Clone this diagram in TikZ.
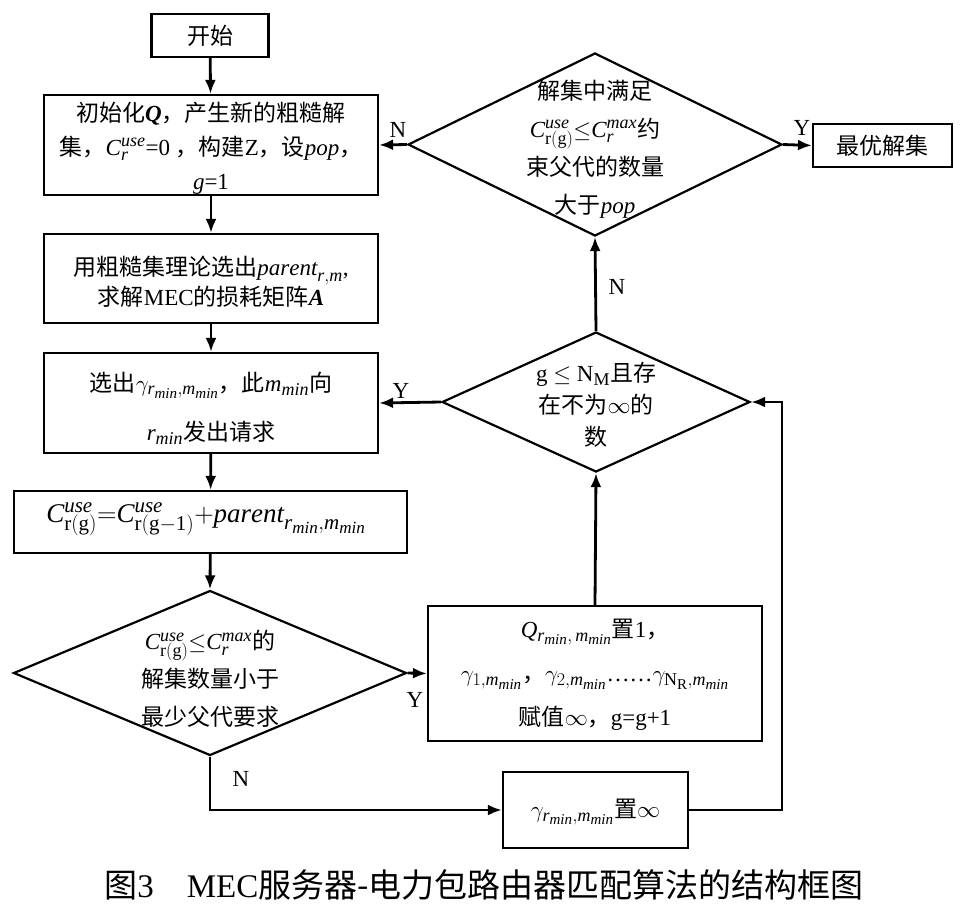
\RequirePackage{fix-cm}
\documentclass[tikz,border=0pt]{standalone}
\usepackage{fontspec}
\setmainfont{Liberation Serif}
\newfontfamily\cjk{Noto Sans CJK SC}
\newcommand\zh[1]{{\cjk #1}}
\DeclareMathSizes{23}{23}{18}{15}
\DeclareMathSizes{27}{27}{21}{17}
\newcommand\Cu[1]{\mathit{C}^{\mathit{use}}_{\mathrm{r(#1)}}}
\newcommand\Cm{\mathit{C}^{\mathit{max}}_{\mathit{r}}}
\newcommand\mmin{\mathit{m}_{\mathit{min}}}
\newcommand\rmin{\mathit{r}_{\mathit{min}}}
\usetikzlibrary{shapes.geometric,arrows.meta}
\tikzset{
  box/.style={draw, line width=2.2pt, rectangle, inner sep=0pt},
  dia/.style={draw, line width=2.2pt, diamond, inner sep=0pt},
  txt/.style={align=center, inner sep=0pt, font=\fontsize{23}{34}\selectfont},
  arr/.style={line width=2.8pt, -{Latex[length=14pt,width=11pt]}},
  lbl/.style={inner sep=0pt, font=\fontsize{23}{26}\selectfont},
}
\begin{document}
\begin{tikzpicture}[x=1pt,y=-1pt]
\useasboundingbox (0,0) rectangle (968,916);
% boxes
\node[box, minimum width=117, minimum height=43] (start) at (210,35.5) {};
\node[txt] (tstart) at (start) {\zh{开始}};
\node[box, minimum width=334, minimum height=100] (b1) at (211,145) {};
\node[txt] (t1) at (211,148) {\zh{初始化}\textbf{\textit{Q}}\zh{，产生新的粗糙解}\\ \zh{集，}$\mathit{C}^{\mathit{use}}_{\mathit{r}}$=0 \zh{，构建}Z\zh{，设}\textit{pop}\zh{，}\\ \textit{g}=1};
\node[box, minimum width=334, minimum height=89] (b2) at (211,278.5) {};
\node[txt, font=\fontsize{23}{30}\selectfont] (t2) at (211,282) {\zh{用粗糙集理论选出}$\mathit{parent}_{\mathit{r,m}}$,\\ \zh{求解}MEC\zh{的损耗矩阵}\textbf{\textit{A}}};
\node[box, minimum width=334, minimum height=100] (b3) at (211,403) {};
\node[txt, font=\fontsize{23}{49}\selectfont] (t3) at (211,408) {\zh{选出}$\gamma_{\rmin,\mmin}$\zh{，此}$\mmin$\zh{向}\\ $\rmin$\zh{发出请求}};
\node[box, minimum width=393, minimum height=62] (b4) at (210.5,522) {};
\node[txt, font=\fontsize{27}{30}\selectfont] (t4) at (206,519) {$\Cu{g}{=}\Cu{g-1}{+}\mathit{parent}_{\rmin,\mmin}$};
\node[dia, minimum width=393, minimum height=165] (d3) at (210,673) {};
\node[txt, font=\fontsize{23}{38}\selectfont] (td3) at (210,679) {$\Cu{g}{\leq}\Cm$\zh{的}\\ \zh{解集数量小于}\\ \zh{最少父代要求}};
\node[box, minimum width=334, minimum height=135] (bq) at (595,673.5) {};
\node[txt, font=\fontsize{23}{44}\selectfont] (tq) at (595,675) {$\mathit{Q}_{\rmin,\,\mmin}$\zh{置}1\zh{，}\\ $\gamma_{1,\mmin}$\zh{，}$\gamma_{2,\mmin}$\ldots\ldots$\gamma_{\mathrm{N_R},\mmin}$\\ \zh{赋值}$\infty$\zh{，}g=g+1};
\node[box, minimum width=185, minimum height=76] (bg) at (595.5,810) {};
\node[txt] (tg) at (595.5,812) {$\gamma_{\rmin,\mmin}$\zh{置}$\infty$};
\node[dia, minimum width=308, minimum height=140] (d2) at (596,402) {};
\node[txt, font=\fontsize{23}{32}\selectfont] (td2) at (596,405) {g $\leq$ N$_{\mathrm{M}}$\zh{且存}\\ \zh{在不为}$\infty$\zh{的}\\ \zh{数}};
\node[dia, minimum width=374, minimum height=183] (d1) at (595,144.5) {};
\node[txt, font=\fontsize{23}{38}\selectfont] (td1) at (595,149) {\zh{解集中满足}\\ $\Cu{g}{\leq}\Cm$\zh{约}\\ \zh{束父代的数量}\\ \zh{大于}\textit{pop}};
\node[box, minimum width=139, minimum height=43] (best) at (882.5,145.5) {};
\node[txt] (tbest) at (best) {\zh{最优解集}};
% connectors
\coordinate (c1) at (782,402);
\draw[arr] (start) -- (b1);
\draw[arr] (b1) -- (b2);
\draw[arr] (b2) -- (b3);
\draw[arr] (b3) -- (b4);
\draw[arr] (b4) -- (d3.north);
\draw[arr] (d3.east) -- (bq.west);
\draw[arr] (d3.south) |- (bg.west);
\draw[arr] (bg.east) -| (c1) -- (d2.east);
\draw[arr] (bq.north) -- (d2.south);
\draw[arr] (d2.west) -- (b3.east);
\draw[arr] (d2.north) -- (d1.south);
\draw[arr] (d1.west) -- (b1.east);
\draw[arr] (d1.east) -- (best.west);
% labels
\node[lbl] (lN1) at (398,130) {N};
\node[lbl] (lY1) at (802,128) {Y};
\node[lbl] (lN2) at (617,287) {N};
\node[lbl] (lY2) at (401,391) {Y};
\node[lbl] (lY3) at (415,700) {Y};
\node[lbl] (lN3) at (241,779) {N};
% caption
\node[inner sep=0pt, font=\fontsize{33}{36}\selectfont] (cap) at (484,885) {\zh{图}3\zh{　}MEC\zh{服务器-电力包路由器匹配算法的结构框图}};
\end{tikzpicture}
\end{document}
